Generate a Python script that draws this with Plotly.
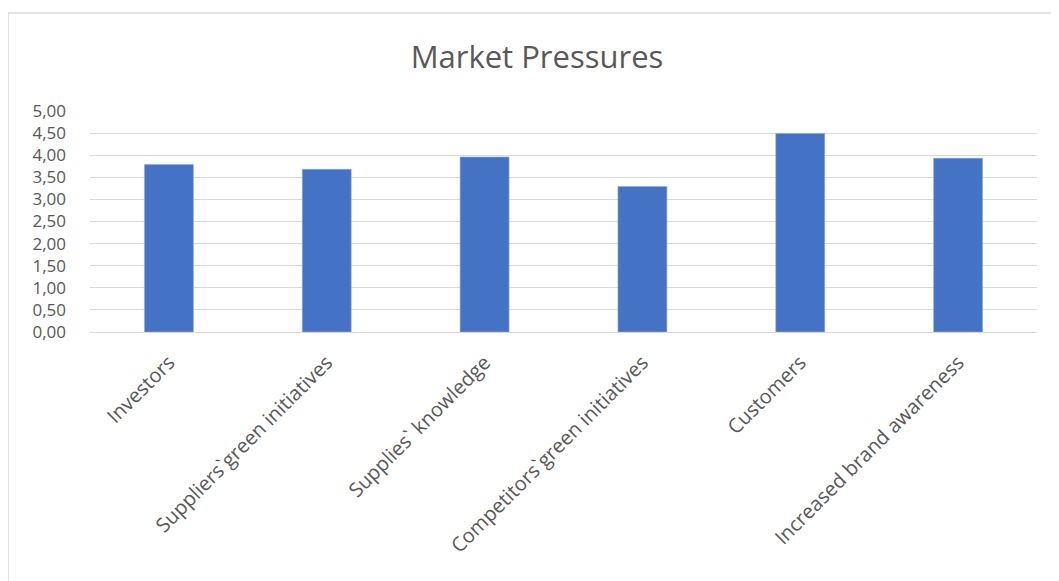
import plotly.graph_objects as go

categories = ["Investors", "Suppliers`green initiatives", "Supplies` knowledge",
              "Competitors`green initiatives", "Customers", "Increased brand awareness"]
values = [3.79, 3.68, 3.96, 3.29, 4.49, 3.93]
tick_vals = [0, 0.5, 1, 1.5, 2, 2.5, 3, 3.5, 4, 4.5, 5]
tick_text = ["0,00", "0,50", "1,00", "1,50", "2,00", "2,50", "3,00", "3,50", "4,00", "4,50", "5,00"]
title_text = "Market Pressures"

OFF = 8  # page body margin
W, H = 1059 - OFF, 581 - OFF
L, R, T, B = 90 - OFF, 22, 111 - OFF, 249
pw, ph = W - L - R, H - T - B

fig = go.Figure(go.Bar(
    x=categories, y=values, width=0.31,
    marker=dict(color="#4472C4", line=dict(color="#8FAADC", width=0.6)),
))

def px_x(p):
    return (p - OFF - L) / pw

def px_y(p):
    return (H - B - (p - OFF)) / ph

fig.update_layout(
    width=W, height=H,
    margin=dict(l=L, r=R, t=T, b=B),
    paper_bgcolor="white", plot_bgcolor="white",
    showlegend=False,
    title=dict(text=title_text, x=(537 - OFF) / W, xanchor="center",
               y=1 - (57 - OFF) / H, yanchor="middle", xref="container",
               font=dict(family="Open Sans", size=31, color="#595959")),
    font=dict(family="Open Sans", color="#595959"),
    xaxis=dict(tickangle=-45, tickfont=dict(size=20, color="#595959"),
               showgrid=False, showline=False, ticks="", ticklabelstandoff=14),
    yaxis=dict(range=[0, 5], tickvals=tick_vals, ticktext=tick_text,
               tickfont=dict(size=17, color="#595959"),
               showgrid=True, gridcolor="#D9D9D9", gridwidth=1,
               zeroline=True, zerolinecolor="#D9D9D9", zerolinewidth=1,
               showline=False, ticks="", ticklabelstandoff=23),
    shapes=[
        dict(type="line", xref="paper", yref="paper",
             x0=px_x(8), x1=px_x(8), y0=px_y(13), y1=px_y(600),
             line=dict(color="#D9D9D9", width=1.5)),
        dict(type="line", xref="paper", yref="paper",
             x0=px_x(8), x1=px_x(1100), y0=px_y(13), y1=px_y(13),
             line=dict(color="#D9D9D9", width=1.5)),
    ],
)

fig.write_html("out.html")
